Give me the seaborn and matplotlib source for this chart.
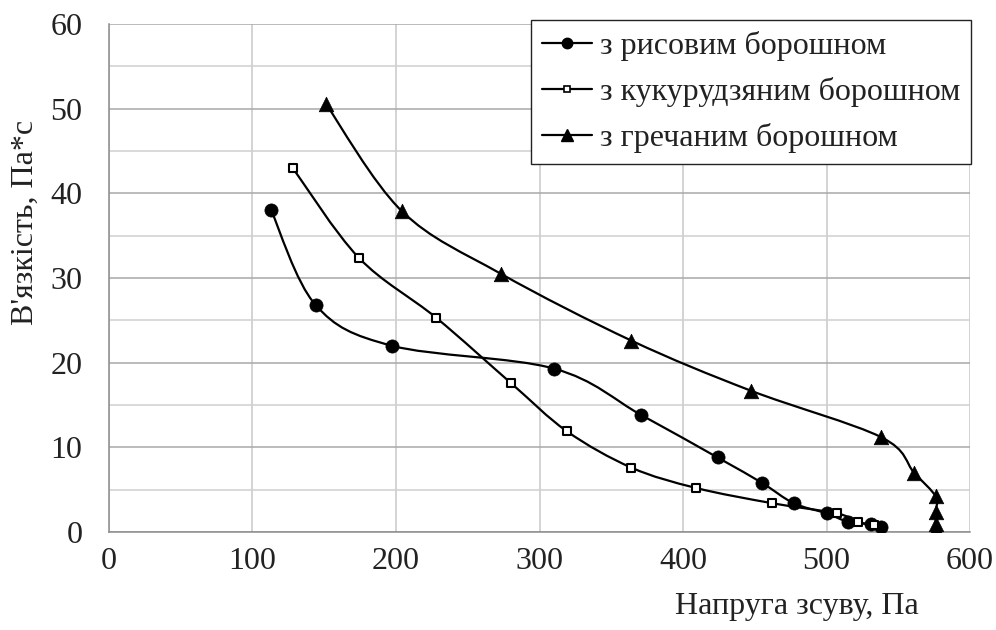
import numpy as np
import pandas as pd
import seaborn as sns
from matplotlib import pyplot as plt
from matplotlib.path import Path
from matplotlib.patches import PathPatch
from matplotlib.lines import Line2D
from matplotlib.ticker import MultipleLocator

# Data
rice_x = [113, 144, 197, 310, 371, 424, 455, 477, 500, 515, 531, 538]
rice_y = [38.0, 26.8, 22.0, 19.3, 13.8, 8.8, 5.8, 3.4, 2.2, 1.2, 0.9, 0.6]

corn_x = [128, 174, 228, 280, 319, 364, 409, 462, 507, 522, 533]
corn_y = [43.0, 32.4, 25.3, 17.6, 11.9, 7.6, 5.2, 3.4, 2.2, 1.2, 0.8]

buck_x = [151, 204, 273, 364, 447, 538, 561, 576, 576, 576, 576]
buck_y = [50.6, 37.9, 30.5, 22.6, 16.7, 11.2, 7.0, 4.2, 2.4, 1.0, 0.4]

labels = ["з рисовим борошном", "з кукурудзяним борошном", "з гречаним борошном"]

sns.set_theme(style="white")
plt.rcParams["font.family"] = ["Liberation Serif", "DejaVu Serif"]

FS = 23


# Excel-like smoothed line through the points (cubic Bezier, Catmull-Rom)
def smooth_path(xs, ys):
    p = np.column_stack([xs, ys]).astype(float)
    n = len(p)
    verts = [p[0]]
    codes = [Path.MOVETO]
    for i in range(n - 1):
        p0 = p[i - 1] if i > 0 else p[i]
        p3 = p[i + 2] if i + 2 < n else p[i + 1]
        c1 = p[i] + (p[i + 1] - p0) / 6.0
        c2 = p[i + 1] - (p3 - p[i]) / 6.0
        verts += [c1, c2, p[i + 1]]
        codes += [Path.CURVE4] * 3
    return Path(verts, codes)


fig, ax = plt.subplots(figsize=(9.96, 6.3), dpi=100)
fig.subplots_adjust(left=0.1094, right=0.974, bottom=0.1556, top=0.962)

series = [
    (rice_x, rice_y, "o", "black", 90),
    (corn_x, corn_y, "s", "white", 40),
    (buck_x, buck_y, "^", "black", 110),
]
for xs, ys, mk, fc, s in series:
    ax.add_patch(PathPatch(smooth_path(xs, ys), facecolor="none",
                           edgecolor="black", lw=1.6, zorder=3))
    df = pd.DataFrame({"x": xs, "y": ys})
    sns.scatterplot(data=df, x="x", y="y", marker=mk, s=s, color=fc,
                    edgecolor="black", linewidth=1.5 if mk == "s" else 0.5,
                    ax=ax, zorder=4, legend=False)

ax.set_xlim(0, 600)
ax.set_ylim(0, 60)
ax.xaxis.set_major_locator(MultipleLocator(100))
ax.yaxis.set_major_locator(MultipleLocator(10))
ax.yaxis.set_minor_locator(MultipleLocator(5))

ax.grid(True, which="major", axis="x", color="#c8c8c8", lw=1.1)
ax.grid(True, which="major", axis="y", color="#a8a8a8", lw=1.1)
ax.grid(True, which="minor", axis="y", color="#d0d0d0", lw=1.1)
ax.set_axisbelow(True)

for side in ["top", "right"]:
    ax.spines[side].set_visible(False)
for side in ["left", "bottom"]:
    ax.spines[side].set_color("#8c8c8c")
    ax.spines[side].set_linewidth(1.1)

ax.tick_params(axis="both", which="major", direction="out", length=7,
               width=1.1, color="#8c8c8c", labelsize=FS, labelcolor="#222222")
ax.tick_params(axis="x", pad=4)
ax.tick_params(axis="y", pad=12)
ax.tick_params(axis="y", which="minor", length=0)

ax.set_xlabel("Напруга зсуву, Па", fontsize=FS, color="#222222")
ax.set_ylabel("В'язкість, Па*с", fontsize=FS, color="#222222")
ax.xaxis.set_label_coords(0.799, -0.118)
ax.yaxis.set_label_coords(-0.080, 0.61)

handles = [
    Line2D([], [], color="black", lw=1.6, marker="o", markersize=7.5),
    Line2D([], [], color="black", lw=1.6, marker="s", markersize=4.5,
           markerfacecolor="white", markeredgewidth=1.2),
    Line2D([], [], color="black", lw=1.6, marker="^", markersize=8),
]
leg = fig.legend(handles, labels, loc="upper right",
                 bbox_to_anchor=(0.975, 0.968), fontsize=FS,
                 frameon=True, fancybox=False, framealpha=1,
                 edgecolor="#222222", handlelength=1.56, handletextpad=0.25,
                 borderpad=0.35, labelspacing=0.5, borderaxespad=0)
leg.get_frame().set_linewidth(1.0)
for t in leg.get_texts():
    t.set_color("#222222")

fig.savefig("out.png", dpi=100)
